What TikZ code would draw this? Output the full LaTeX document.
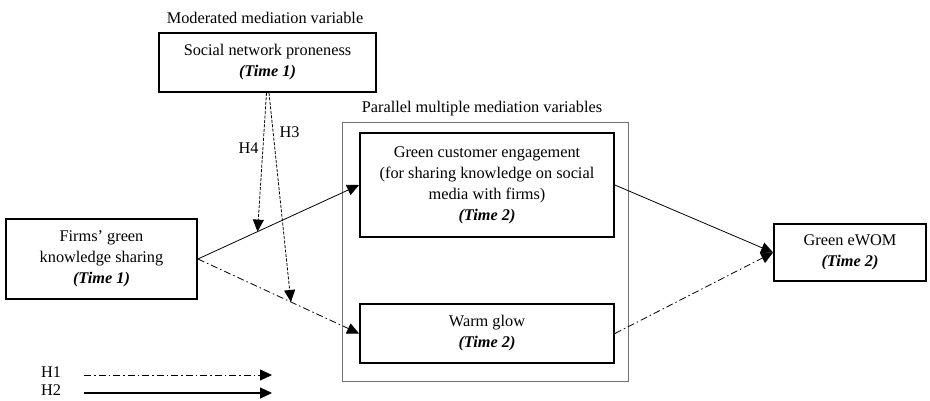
\documentclass[tikz,border=0pt]{standalone}
\usepackage{fontspec}
\setmainfont{Liberation Serif}
\usetikzlibrary{positioning,arrows.meta}
\tikzset{
  varbox/.style  ={draw=black,line width=1.8pt,align=center,inner sep=2pt,font=\fontsize{16.3}{21}\selectfont},
  groupbox/.style={draw=black!55,line width=0.9pt,inner sep=0pt},
  grouplbl/.style={font=\fontsize{16.3}{21}\selectfont,inner sep=0pt},
  hyp/.style     ={font=\fontsize{16.3}{21}\selectfont,inner sep=0pt},
  arr/.style     ={-{Triangle[length=12pt,width=11pt]},line width=0.8pt,draw=black},
  dotarr/.style  ={arr,dash pattern=on 7pt off 3pt on 1.5pt off 3pt},
  modarr/.style  ={arr,dash pattern=on 3pt off 1.5pt},
}
\newcommand{\timept}[1]{\textbf{\textit{(Time #1)}}}

\begin{document}
\begin{tikzpicture}[x=1pt,y=-1pt]
  \useasboundingbox (0,0) rectangle (930,400);

  % moderator
  \node[grouplbl] (modlbl) at (265,18) {Moderated mediation variable};
  \node[varbox,minimum width=217pt,minimum height=59pt] (snp) at (267.5,62.5) {Social network proneness\\\timept{1}};

  % independent variable
  \node[varbox,minimum width=191pt,minimum height=80pt] (firms) at (101.5,259) {Firms' green\\knowledge sharing\\\timept{1}};

  % mediators
  \node[groupbox,minimum width=286pt,minimum height=259pt] (group) at (485,251.5) {};
  \node[grouplbl] (grplbl) at (482,109) {Parallel multiple mediation variables};
  \node[varbox,minimum width=254pt,minimum height=104pt] (gce) at (487,185) {Green customer engagement\\(for sharing knowledge on social\\media with firms)\\\timept{2}};
  \node[varbox,minimum width=254pt,minimum height=59pt] (warm) at (487,333.5) {Warm glow\\\timept{2}};

  % outcome
  \node[varbox,minimum width=152pt,minimum height=57pt] (ewom) at (850,252.5) {Green eWOM\\\timept{2}};

  \draw[arr] (firms.east) -- coordinate[pos=0.37] (h4tip) (gce.west);
  \draw[dotarr] (firms.east) -- coordinate[pos=0.577] (h3tip) (warm.west);
  \draw[arr] (gce.east) -- (ewom.west);
  \draw[dotarr] (warm.east) -- (ewom.west);

  \draw[modarr] ([xshift=-1pt]snp.south) -- node[hyp,pos=0.4,left=4pt]{H4} (h4tip);
  \draw[modarr] ([xshift=1.5pt]snp.south) -- node[hyp,pos=0.19,right=6pt]{H3} (h3tip);

  % legend
  \node[hyp] (h1) at (51,372) {H1};
  \node[hyp] (h2) at (51,390) {H2};
  \coordinate (h1a) at (84,375);
  \coordinate (h1b) at (272,375);
  \coordinate (h2a) at (84,393);
  \coordinate (h2b) at (272,393);
  \draw[dotarr] (h1a) -- (h1b);
  \draw[arr,line width=1.2pt] (h2a) -- (h2b);
\end{tikzpicture}
\end{document}
